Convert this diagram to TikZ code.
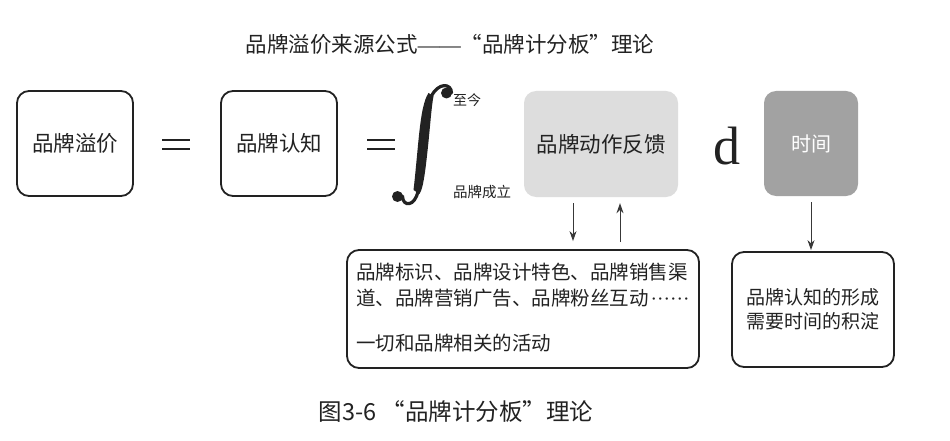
\documentclass[tikz,border=0pt]{standalone}
\usepackage{fontspec}
\setmainfont{Liberation Serif}
\newfontfamily\cjk{Noto Sans CJK SC}
\usetikzlibrary{arrows.meta}
\definecolor{ink}{HTML}{222222}
\definecolor{lightg}{HTML}{DDDDDD}
\definecolor{midg}{HTML}{A2A2A2}
\tikzset{
  bbox/.style={draw=ink, line width=1.8pt, rounded corners=12pt, inner sep=0pt, text=ink},
  gbox/.style={rounded corners=12pt, inner sep=0pt},
  arr/.style={-{Stealth[length=10pt,width=7pt]}, line width=1pt, draw=ink!90},
  eqline/.style={line width=1.6pt, draw=ink},
  lbl/.style={inner sep=0pt, text=ink, font=\cjk}
}
\newcommand{\middots}{\makebox[38pt][s]{\rmfamily\hspace{2pt}·\hfill·\hfill·\hfill·\hfill·\hfill·}}
\begin{document}
\begin{tikzpicture}[x=1pt,y=-1pt]
\useasboundingbox (0,0) rectangle (950,441);
\fill[white] (0,0) rectangle (950,441);
% title
\node[lbl, font=\cjk\fontsize{21.5}{24}\selectfont] (title) at (450,44) {品牌溢价来源公式{\rmfamily ——}“品牌计分板”理论};
% boxes
\node[bbox, minimum width=116pt, minimum height=105pt, font=\cjk\fontsize{21.5}{24}\selectfont] (prem) at (75,143.5) {品牌溢价};
\node[bbox, minimum width=116pt, minimum height=105pt, font=\cjk\fontsize{21.5}{24}\selectfont] (cog) at (279,143.5) {品牌认知};
% equal signs
\coordinate (e1a) at (162,140); \coordinate (e1b) at (190,140);
\coordinate (e1c) at (162,149); \coordinate (e1d) at (190,149);
\draw[eqline] (e1a) -- (e1b); \draw[eqline] (e1c) -- (e1d);
\coordinate (e2a) at (367,140); \coordinate (e2b) at (395,140);
\coordinate (e2c) at (367,149); \coordinate (e2d) at (395,149);
\draw[eqline] (e2a) -- (e2b); \draw[eqline] (e2c) -- (e2d);
% integral sign (drawn)
\coordinate (itop) at (446.5,93);
\coordinate (ibot) at (397.5,196.5);
\fill[ink] (itop) circle (5.5pt);
\fill[ink] (ibot) circle (5.5pt);
\draw[ink, line width=3.2pt, line cap=round] (451.5,93) .. controls (451.5,83) and (438,82) .. (431,97);
\draw[ink, line width=3.2pt, line cap=round] (402.5,196) .. controls (402.5,207) and (415,207) .. (418,191);
\fill[ink] (433.5,96) .. controls (431,110) and (430,130) .. (426.5,160) .. controls (424,182) and (422,190) .. (419.5,194)
  -- (413.5,190) .. controls (415,178) and (416.5,160) .. (419,135) .. controls (421.5,112) and (424,100) .. (428.5,93) -- cycle;
\node[lbl, anchor=west, font=\cjk\fontsize{14}{16}\selectfont] (upper) at (453,100) {至今};
\node[lbl, anchor=west, font=\cjk\fontsize{14.5}{16}\selectfont] (lower) at (453,192) {品牌成立};
% feedback box
\node[gbox, fill=lightg, text=ink, minimum width=154pt, minimum height=106pt, font=\cjk\fontsize{21.5}{24}\selectfont] (fb) at (601,144) {品牌动作反馈};
% d
\node[inner sep=0pt, text=ink, font=\fontsize{54}{58}\selectfont] (dd) at (727,146) {d};
% time box
\node[gbox, fill=midg, text=white, minimum width=94pt, minimum height=105pt, font=\cjk\fontsize{20}{24}\selectfont] (tm) at (811,143.5) {时间};
% activity box
\node[bbox, minimum width=352pt, minimum height=118pt] (act) at (523,309) {};
\node[lbl, anchor=west, font=\cjk\fontsize{19.5}{22}\selectfont] (l1) at (356,272) {品牌标识、品牌设计特色、品牌销售渠};
\node[lbl, anchor=west, font=\cjk\fontsize{19.5}{22}\selectfont] (l2) at (356,298) {道、品牌营销广告、品牌粉丝互动\middots};
\node[lbl, anchor=west, font=\cjk\fontsize{19.5}{22}\selectfont] (l3) at (356,343) {一切和品牌相关的活动};
% right box
\node[bbox, minimum width=162pt, minimum height=115pt, align=center, font=\cjk\fontsize{19}{24}\selectfont] (rb) at (813,309.5) {品牌认知的形成\\需要时间的积淀};
% arrows
\draw[arr] ([xshift=-28pt,yshift=-6pt]fb.south) -- ([xshift=50pt,yshift=8pt]act.north);
\draw[arr] ([xshift=97pt,yshift=7pt]act.north) -- ([xshift=19pt,yshift=-6pt]fb.south);
\draw[arr] ([yshift=-6pt]tm.south) -- ([yshift=1pt]tm.south |- rb.north);
% caption
\node[lbl, font=\cjk\fontsize{23.5}{26}\selectfont] (cap) at (456,412) {图3-6 “品牌计分板”理论};
\end{tikzpicture}
\end{document}
